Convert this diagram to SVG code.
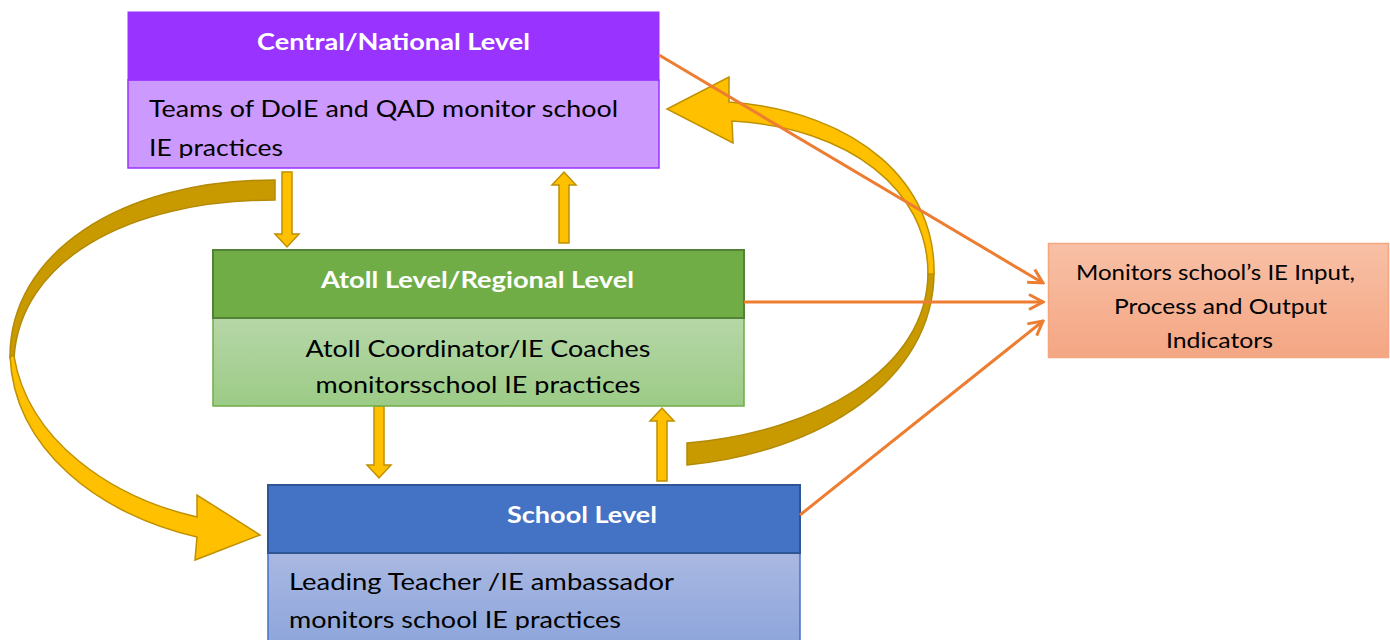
<svg xmlns="http://www.w3.org/2000/svg" width="1390" height="640" viewBox="0 0 1390 640">
  <style>
    .hdr { font-family: Lato, "Open Sans", "Liberation Sans", sans-serif; font-weight: 700; font-size: 22px; fill: #ffffff; }
    .txt { font-family: Lato, "Open Sans", "Liberation Sans", sans-serif; font-size: 23px; fill: #000000; }
    .small { font-size: 21px; }
    .conn { fill: none; stroke: #ED7D31; stroke-width: 3; }
    .block { fill: #FFC000; stroke: #BF9000; stroke-width: 1.5; stroke-linejoin: miter; }
    .back { fill: #C99A00; stroke: #B38A05; stroke-width: 1.5; }
  </style>
  <defs>
    <marker id="chev" viewBox="0 0 18 18" refX="16" refY="9" markerWidth="18" markerHeight="18" markerUnits="userSpaceOnUse" orient="auto">
      <path d="M2,1.5 L16,9 L2,16.5" fill="none" stroke="#ED7D31" stroke-width="3" stroke-linejoin="miter"/>
    </marker>
    <linearGradient id="gGreen" x1="0" y1="0" x2="0" y2="1">
      <stop offset="0" stop-color="#B6D7A8"/>
      <stop offset="1" stop-color="#9CCB86"/>
    </linearGradient>
    <linearGradient id="gBlue" x1="0" y1="0" x2="0" y2="1">
      <stop offset="0" stop-color="#A9B8E1"/>
      <stop offset="1" stop-color="#8EA6DC"/>
    </linearGradient>
    <linearGradient id="gOrange" x1="0" y1="0" x2="0" y2="1">
      <stop offset="0" stop-color="#F8C0A6"/>
      <stop offset="1" stop-color="#F4A683"/>
    </linearGradient>
    <clipPath id="clipTop"><rect x="128" y="80" width="531" height="78"/></clipPath>
    <clipPath id="clipAtoll"><rect x="213" y="318" width="531" height="77"/></clipPath>
    <clipPath id="clipSchool"><rect x="268" y="553" width="532" height="77"/></clipPath>
  </defs>

  <rect width="1390" height="640" fill="#ffffff"/>

  <!-- big curved arrows -->
  <g id="curve-left">
    <path class="back" d="M 275,180 C 118,180 9,255 10,358 L 14,358 C 20,262 125,200 275,200 Z"/>
    <path class="block" d="M 10,356 C 14,450 100,515 197,537 L 195,560 L 260,535 L 197,495 L 197,517 C 110,497 28,440 14,356 Z"/>
  </g>
  <g id="curve-right">
    <path class="back" d="M 687,465 C 820,452 934,380 934,272 L 928,272 C 928,370 815,432 687,443 Z"/>
    <path class="block" d="M 934,274 C 936,185 860,112 729,102 L 729,77 L 667,109 L 733,143 L 732,121 C 850,128 928,190 928,274 Z"/>
  </g>

  <!-- small block arrows between levels -->
  <g id="arrows-vertical">
    <path class="block" d="M 282,172 L 292,172 L 292,234 L 299,234 L 287,247 L 275,234 L 282,234 Z"/>
    <path class="block" d="M 559,243 L 569,243 L 569,185 L 576,185 L 564,172 L 552,185 L 559,185 Z"/>
    <path class="block" d="M 374,406 L 384,406 L 384,465 L 391,465 L 379,478 L 367,465 L 374,465 Z"/>
    <path class="block" d="M 657,481 L 667,481 L 667,421 L 674,421 L 662,408 L 650,421 L 657,421 Z"/>
  </g>

  <!-- Central / National level -->
  <g id="central">
    <rect x="128" y="80" width="531" height="88" fill="#CC99FF" stroke="#9933FF" stroke-width="1.5"/>
    <rect x="128" y="12" width="531" height="68" fill="#9933FF" stroke="#9933FF" stroke-width="1"/>
    <text class="hdr" x="393.5" y="50" text-anchor="middle" textLength="273" lengthAdjust="spacingAndGlyphs">Central/National Level</text>
    <g clip-path="url(#clipTop)">
      <text class="txt" x="149" y="117" textLength="469" lengthAdjust="spacingAndGlyphs">Teams of DoIE and QAD monitor school</text>
      <text class="txt" x="149" y="156" textLength="134" lengthAdjust="spacingAndGlyphs">IE practices</text>
    </g>
  </g>

  <!-- Atoll / Regional level -->
  <g id="atoll">
    <rect x="213" y="318" width="531" height="88" fill="url(#gGreen)" stroke="#70AD47" stroke-width="1.5"/>
    <rect x="213" y="250" width="531" height="68" fill="#70AD47" stroke="#548235" stroke-width="2"/>
    <text class="hdr" x="477.5" y="288" text-anchor="middle" textLength="313" lengthAdjust="spacingAndGlyphs">Atoll Level/Regional Level</text>
    <g clip-path="url(#clipAtoll)">
      <text class="txt" x="478" y="357" text-anchor="middle" textLength="345" lengthAdjust="spacingAndGlyphs">Atoll Coordinator/IE Coaches</text>
      <text class="txt" x="478" y="393" text-anchor="middle" textLength="325" lengthAdjust="spacingAndGlyphs">monitorsschool IE practices</text>
    </g>
  </g>

  <!-- School level -->
  <g id="school">
    <rect x="268" y="553" width="532" height="90" fill="url(#gBlue)" stroke="#4472C4" stroke-width="1.5"/>
    <rect x="268" y="485" width="532" height="68" fill="#4472C4" stroke="#2F5597" stroke-width="2"/>
    <text class="hdr" x="582" y="523" text-anchor="middle" textLength="150" lengthAdjust="spacingAndGlyphs">School Level</text>
    <g clip-path="url(#clipSchool)">
      <text class="txt" x="289" y="590" textLength="385" lengthAdjust="spacingAndGlyphs">Leading Teacher /IE ambassador</text>
      <text class="txt" x="289" y="628" textLength="332" lengthAdjust="spacingAndGlyphs">monitors school IE practices</text>
    </g>
  </g>

  <!-- Indicators box -->
  <g id="indicators">
    <rect x="1048.5" y="243.5" width="340" height="114" fill="url(#gOrange)" stroke="#F4A77E" stroke-width="1.5"/>
    <text class="txt small" x="1215.5" y="280" text-anchor="middle" textLength="279" lengthAdjust="spacingAndGlyphs">Monitors school’s IE Input,</text>
    <text class="txt small" x="1220.5" y="314" text-anchor="middle" textLength="213" lengthAdjust="spacingAndGlyphs">Process and Output</text>
    <text class="txt small" x="1219.5" y="348" text-anchor="middle" textLength="107" lengthAdjust="spacingAndGlyphs">Indicators</text>
  </g>

  <!-- connectors to the indicators box -->
  <g id="connectors">
    <path class="conn" d="M 659,55 L 1043,283" marker-end="url(#chev)"/>
    <path class="conn" d="M 744,302 L 1043,302" marker-end="url(#chev)"/>
    <path class="conn" d="M 800,515 L 1043,321" marker-end="url(#chev)"/>
  </g>
</svg>
